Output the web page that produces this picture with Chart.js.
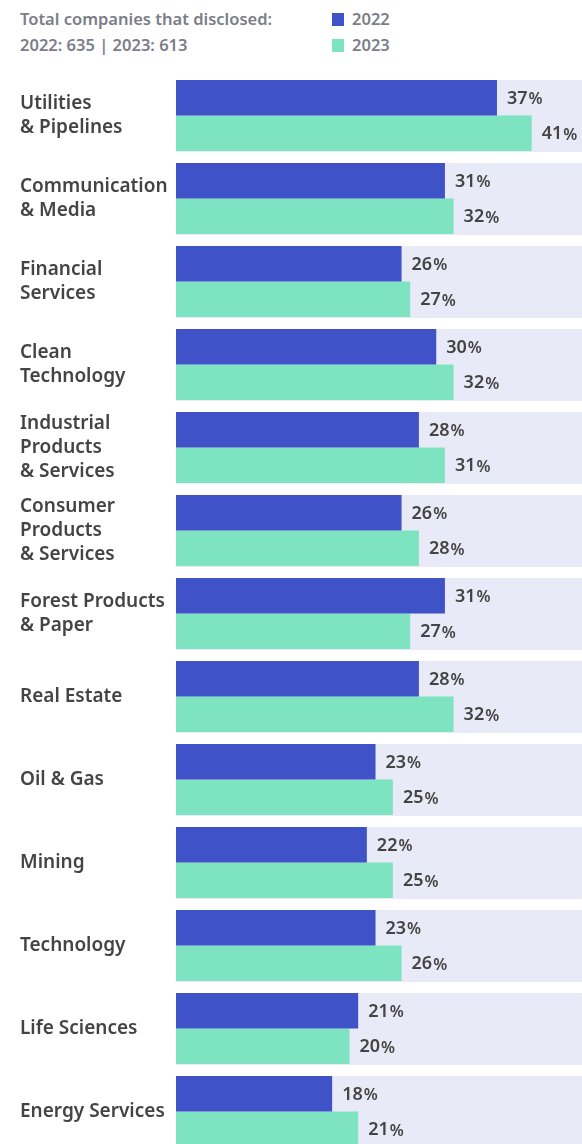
<!DOCTYPE html>
<html>
<head>
<meta charset="utf-8">
<script src="https://cdn.jsdelivr.net/npm/chart.js@4/dist/chart.umd.min.js"></script>
<style>
  html, body { margin: 0; padding: 0; background: #fff; overflow: hidden; }
  body { width: 582px; height: 1144px; position: relative; font-family: "Noto Sans", sans-serif; }
  #head { position: absolute; left: 20px; top: 6px; color: #7b7e87; font-size: 16.5px; font-weight: 600; line-height: 26px; }
  #legend { position: absolute; left: 332px; top: 6px; color: #7b7e87; font-size: 16.5px; font-weight: 600; line-height: 26px; }
  #legend .item { display: flex; align-items: center; }
  #legend .box { width: 12px; height: 13px; margin-right: 8px; }
  #wrap { position: absolute; left: 0; top: 0; width: 582px; height: 1153px; }
</style>
</head>
<body>
<div id="head">Total companies that disclosed:<br>2022: 635 | 2023: 613</div>
<div id="legend"></div>
<div id="wrap"><canvas id="chart"></canvas></div>
<script>
// categories (multi-line labels)
const categories = [
  ['Utilities', '& Pipelines'],
  ['Communication', '& Media'],
  ['Financial', 'Services'],
  ['Clean', 'Technology'],
  ['Industrial', 'Products', '& Services'],
  ['Consumer', 'Products', '& Services'],
  ['Forest Products', '& Paper'],
  'Real Estate',
  'Oil & Gas',
  'Mining',
  'Technology',
  'Life Sciences',
  'Energy Services'
];

// percent of companies, per year
const values2022 = [37, 31, 26, 30, 28, 26, 31, 28, 23, 22, 23, 21, 18];
const values2023 = [41, 32, 27, 32, 31, 28, 27, 32, 25, 25, 26, 20, 21];

const seriesNames = ['2022', '2023'];
const seriesColors = ['#3f52c8', '#7ee3c1'];

const FONT = '"Noto Sans", sans-serif';

// legend in html
const legendDiv = document.getElementById('legend');
seriesNames.forEach((name, i) => {
  const item = document.createElement('div');
  item.className = 'item';
  item.innerHTML = `<span class="box" style="background:${seriesColors[i]}"></span>${name}`;
  legendDiv.appendChild(item);
});

// light band behind each category
const bandPlugin = {
  id: 'bands',
  beforeDatasetsDraw(chart) {
    const ctx = chart.ctx;
    const area = chart.chartArea;
    const m0 = chart.getDatasetMeta(0).data;
    const m1 = chart.getDatasetMeta(1).data;
    ctx.save();
    ctx.fillStyle = '#e9eaf7';
    m0.forEach((bar, i) => {
      const top = bar.y - bar.height / 2;
      const bottom = m1[i].y + m1[i].height / 2;
      ctx.fillRect(area.left, top, area.right - area.left, bottom - top + 1);
    });
    ctx.restore();
  }
};

// value labels like "37%" with a smaller %
const valuePlugin = {
  id: 'values',
  afterDatasetsDraw(chart) {
    const ctx = chart.ctx;
    ctx.save();
    ctx.fillStyle = '#444';
    ctx.textBaseline = 'middle';
    ctx.textAlign = 'left';
    chart.data.datasets.forEach((ds, d) => {
      chart.getDatasetMeta(d).data.forEach((bar, i) => {
        const x = bar.x + 10;
        const y = bar.y + 1;
        const num = String(ds.data[i]);
        ctx.font = '600 18px ' + FONT;
        ctx.fillText(num, x, y);
        const w = ctx.measureText(num).width;
        ctx.font = '600 16px ' + FONT;
        ctx.fillText('%', x + w + 1, y + 1);
      });
    });
    ctx.restore();
  }
};

const canvas = document.getElementById('chart');

const chart = new Chart(canvas, {
  type: 'bar',
  data: {
    labels: categories,
    datasets: [
      { label: seriesNames[0], data: values2022, backgroundColor: seriesColors[0] },
      { label: seriesNames[1], data: values2023, backgroundColor: seriesColors[1] }
    ]
  },
  options: {
    indexAxis: 'y',
    responsive: true,
    maintainAspectRatio: false,
    animation: false,
    datasets: {
      bar: { categoryPercentage: 71 / 83, barPercentage: 1, borderWidth: 0 }
    },
    layout: { padding: { left: 20, top: 74, right: 0, bottom: 0 } },
    scales: {
      x: { display: false, min: 0, max: 46.8 },
      y: {
        grid: { display: false },
        border: { display: false },
        ticks: {
          crossAlign: 'far',
          padding: 0,
          color: '#444',
          font: { family: FONT, size: 19, weight: '600', lineHeight: 24 / 19 }
        },
        afterFit(scale) {
          scale.width = 156;
          scale.paddingTop = 0;
          scale.paddingBottom = 0;
        }
      }
    },
    plugins: {
      legend: { display: false },
      tooltip: { enabled: false }
    }
  },
  plugins: [bandPlugin, valuePlugin]
});
</script>
</body>
</html>
